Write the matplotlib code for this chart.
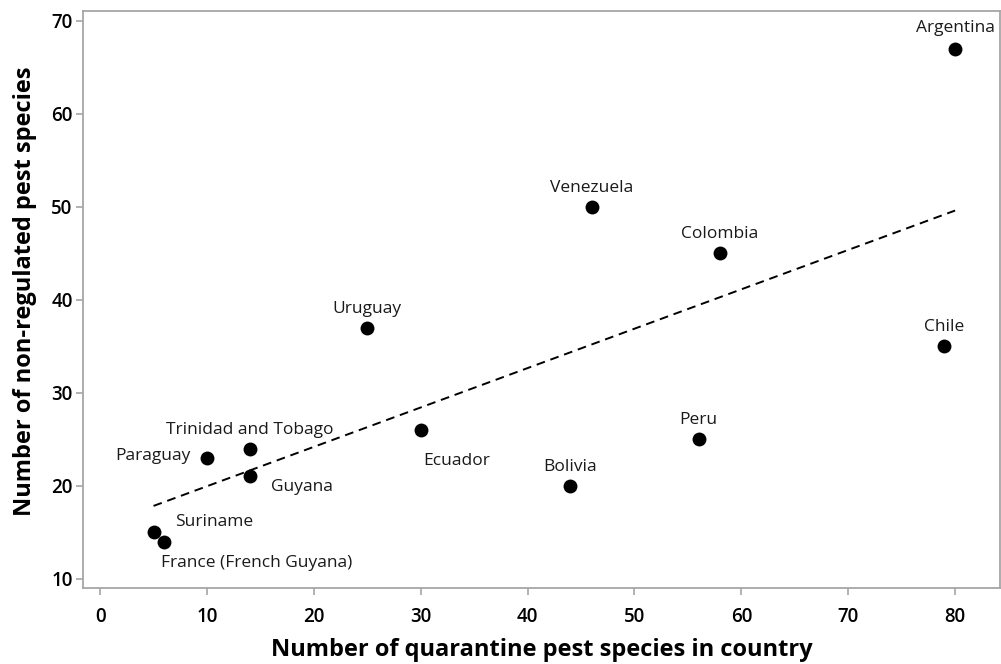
import matplotlib
matplotlib.use("Agg")
import matplotlib.pyplot as plt
import numpy as np

plt.rcParams['font.family'] = ['Open Sans', 'DejaVu Sans']

countries = ["Argentina", "Venezuela", "Colombia", "Chile", "Uruguay", "Ecuador",
             "Bolivia", "Peru", "Paraguay", "Trinidad and Tobago", "Guyana",
             "Suriname", "France (French Guyana)"]
quarantine = [80, 46, 58, 79, 25, 30, 44, 56, 10, 14, 14, 5, 6]
non_regulated = [67, 50, 45, 35, 37, 26, 20, 25, 23, 24, 21, 15, 14]
xticks = [0, 10, 20, 30, 40, 50, 60, 70, 80]
yticks = [10, 20, 30, 40, 50, 60, 70]

# label placement: (dx px, dy px, ha, va) relative to point
px = 0.72
label_style = {
    "Argentina": (0, 17, "center", "baseline"),
    "Venezuela": (0, 15, "center", "baseline"),
    "Colombia": (0, 15, "center", "baseline"),
    "Chile": (0, 15, "center", "baseline"),
    "Uruguay": (0, 14.5, "center", "baseline"),
    "Ecuador": (2.5, -35, "left", "baseline"),
    "Bolivia": (0, 14.5, "center", "baseline"),
    "Peru": (0, 15, "center", "baseline"),
    "Paraguay": (-16, -2.5, "right", "baseline"),
    "Trinidad and Tobago": (0, 14.5, "center", "baseline"),
    "Guyana": (21, -14.5, "left", "baseline"),
    "Suriname": (21.5, 6, "left", "baseline"),
    "France (French Guyana)": (-3, -25, "left", "baseline"),
}

fig = plt.figure(figsize=(10.01, 6.64), dpi=100)
ax = fig.add_axes([83/1001, 1 - 588/664, (1000 - 83)/1001, (588 - 11)/664])

x = np.array(quarantine, dtype=float)
y = np.array(non_regulated, dtype=float)
slope, intercept = np.polyfit(x, y, 1)
xl = np.array([x.min(), x.max()])
ax.plot(xl, slope * xl + intercept, color="black", lw=1.4, dashes=(4.5, 3), zorder=2)

ax.scatter(x, y, s=100, color="black", zorder=3, linewidths=0)

for name, xi, yi in zip(countries, quarantine, non_regulated):
    dx, dy, ha, va = label_style[name]
    ax.annotate(name, (xi, yi), xytext=(dx * px, dy * px), textcoords="offset points",
                ha=ha, va=va, fontsize=12.5, color="#1a1a1a")

ax.set_xlim(-1.6, 84.2)
ax.set_ylim(9, 71.05)
ax.set_xticks(xticks)
ax.set_yticks(yticks)
for s in ax.spines.values():
    s.set_color("#a6a6a6")
    s.set_linewidth(1.3)
ax.tick_params(axis="both", colors="#a6a6a6", length=5, width=1.2, labelcolor="black",
               labelsize=13.5)
for lab in ax.get_xticklabels() + ax.get_yticklabels():
    lab.set_fontweight("semibold")
ax.tick_params(axis="x", pad=8.5)
ax.tick_params(axis="y", pad=2.5)

ax.set_xlabel("Number of quarantine pest species in country", fontsize=17, fontweight="bold",
              labelpad=8)
ax.set_ylabel("Number of non-regulated pest species", fontsize=17, fontweight="bold")
ax.yaxis.set_label_coords(-0.0505, 0.5135)

fig.savefig("out.png", dpi=100)
